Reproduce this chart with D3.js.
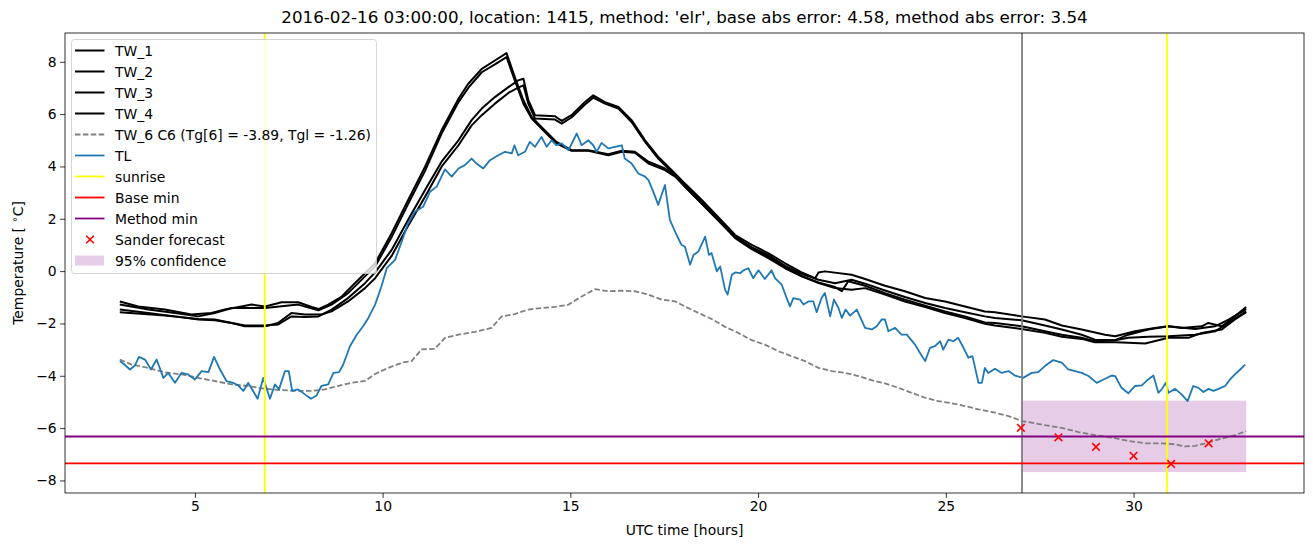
<!DOCTYPE html>
<html lang="en">
<head>
<meta charset="utf-8">
<title>Temperature forecast 1415</title>
<script src="https://d3js.org/d3.v7.min.js"></script>
<style>
  body { margin: 0; background: #fff; }
  svg { font-family: "DejaVu Sans", sans-serif; }
  .tick text { font-size: 13.9px; fill: #000; }
  .tick line { stroke: #000; stroke-width: 0.8px; }
</style>
</head>
<body>
<svg id="chart" width="1313" height="547"></svg>
<script>
// road surface sensors (hour, temp)
const tw1 = [[3.0,-1.16],[3.49,-1.35],[4.20,-1.47],[4.91,-1.66],[5.44,-1.60],[5.80,-1.47],[6.24,-1.35],[6.51,-1.28],[6.87,-1.35],[7.31,-1.19],[7.75,-1.19],[8.11,-1.37],[8.29,-1.45],[8.55,-1.28],[8.91,-0.97],[9.26,-0.46],[9.53,-0.08],[9.80,0.30],
  [10.24,1.45],[10.68,2.72],[11.13,3.99],[11.57,5.38],[12.02,6.59],[12.28,7.16],[12.64,7.73],[12.99,8.05],[13.30,8.33],[13.52,7.42],[13.75,6.53],[13.97,5.89],[14.23,5.51],[14.63,4.94],[15.03,4.62],[15.48,4.62],[16.01,4.47],[16.37,4.60],[16.72,4.56],[17.08,4.18],[17.52,3.92],[17.79,3.67],[18.05,3.29],
  [18.50,2.65],[18.94,1.98],[19.39,1.32],[19.83,0.91],[20.27,0.62],[20.72,0.20],[21.16,-0.10],[21.61,-0.33],[22.05,-0.46],[22.49,-0.33],[22.85,-0.48],[23.38,-0.74],[23.91,-0.99],[24.45,-1.22],[24.98,-1.41],[25.51,-1.57],[26.04,-1.73],[26.31,-1.79],
  [27.02,-1.88],[27.64,-2.08],[28.09,-2.23],[28.62,-2.43],[28.97,-2.62],[29.51,-2.64],[29.86,-2.43],[30.39,-2.23],[30.93,-2.11],[31.64,-2.21],[32.17,-2.11],[32.53,-1.85],[33.0,-1.45]];
const tw2 = [[3.0,-1.28],[3.76,-1.47],[4.47,-1.60],[5.09,-1.73],[5.53,-1.60],[5.98,-1.41],[6.87,-1.41],[7.75,-1.28],[8.29,-1.50],[8.64,-1.28],[9.08,-0.84],[9.53,-0.20],[9.80,0.18],
  [10.24,1.30],[10.68,2.57],[11.13,3.83],[11.57,5.26],[12.02,6.46],[12.28,7.0],[12.64,7.6],[12.99,7.9],[13.30,8.18],[13.52,7.29],[13.75,6.4],[13.97,5.83],[14.23,5.45],[14.63,4.88],[15.03,4.6],[15.48,4.6],[16.01,4.43],[16.37,4.56],[16.72,4.52],[17.08,4.11],[17.52,3.86],[17.79,3.61],[18.05,3.23],
  [18.50,2.57],[18.94,1.93],[19.39,1.26],[19.83,0.84],[20.27,0.50],[20.72,0.11],[21.16,-0.20],[21.61,-0.46],[22.05,-0.65],[22.49,-0.71],[22.85,-0.65],[23.38,-0.90],[23.91,-1.16],[24.45,-1.37],[24.98,-1.60],[25.51,-1.79],[26.04,-2.01],[26.31,-2.08],
  [27.02,-2.21],[27.64,-2.36],[28.09,-2.51],[28.62,-2.59],[28.97,-2.72],[29.51,-2.72],[29.86,-2.74],[30.31,-2.77],[30.93,-2.55],[31.46,-2.55],[31.82,-2.36],[32.35,-2.23],[32.70,-1.85],[33.0,-1.57]];
const tw3 = [[3.0,-1.47],[3.76,-1.60],[4.47,-1.73],[5.09,-1.85],[5.53,-1.88],[5.98,-1.98],[6.33,-2.08],[6.87,-2.08],[7.22,-2.04],[7.57,-1.73],[7.93,-1.75],[8.29,-1.73],[8.64,-1.47],[9.08,-1.03],[9.53,-0.46],[9.80,-0.05],
  [10.24,0.81],[10.68,1.96],[11.13,3.10],[11.57,4.18],[12.02,5.00],[12.37,5.77],[12.64,6.21],[12.99,6.65],[13.35,7.03],[13.61,7.29],[13.75,7.35],[13.88,6.53],[14.06,5.96],[14.59,5.92],[14.77,5.74],[15.03,5.96],[15.39,6.46],[15.61,6.72],[15.92,6.46],[16.28,6.27],[16.63,5.77],[16.99,5.00],[17.34,4.37],[17.70,3.86],[18.05,3.35],
  [18.50,2.72],[18.94,2.06],[19.39,1.38],[19.83,1.00],[20.27,0.69],[20.72,0.30],[21.16,-0.05],[21.52,-0.27],[21.61,-0.05],[21.78,-0.01],[22.49,-0.14],[22.85,-0.30],[23.38,-0.56],[23.91,-0.77],[24.45,-1.03],[24.98,-1.16],[25.51,-1.35],[26.04,-1.54],[26.31,-1.57],
  [27.02,-1.73],[27.64,-1.85],[28.09,-2.08],[28.62,-2.23],[29.24,-2.43],[29.51,-2.49],[30.04,-2.30],[30.57,-2.17],[30.93,-2.11],[31.28,-2.17],[31.82,-2.11],[31.99,-1.98],[32.35,-2.11],[32.70,-1.73],[33.0,-1.37]];
const tw4 = [[3.0,-1.57],[4.20,-1.70],[5.09,-1.83],[5.53,-1.85],[5.98,-1.98],[6.33,-2.11],[6.87,-2.11],[7.22,-1.98],[7.57,-1.60],[7.93,-1.66],[8.37,-1.66],[8.64,-1.54],[9.08,-1.16],[9.53,-0.65],[9.80,-0.27],
  [10.24,0.58],[10.68,1.73],[11.13,2.84],[11.57,3.99],[12.02,4.81],[12.37,5.57],[12.64,5.96],[12.99,6.40],[13.35,6.81],[13.61,7.01],[13.75,7.10],[13.88,6.40],[14.06,5.83],[14.59,5.79],[14.77,5.64],[15.03,5.87],[15.39,6.37],[15.61,6.63],[15.92,6.40],[16.28,6.21],[16.63,5.70],[16.99,4.94],[17.34,4.30],[17.70,3.80],[18.05,3.23],
  [18.50,2.59],[18.94,1.96],[19.39,1.30],[19.83,0.88],[20.27,0.56],[20.72,0.15],[21.16,-0.18],[21.61,-0.43],[22.05,-0.61],[22.23,-0.77],[22.40,-0.39],[22.85,-0.56],[23.38,-0.84],[23.91,-1.09],[24.45,-1.32],[24.98,-1.54],[25.51,-1.73],[26.04,-1.96],[26.31,-1.98],
  [27.02,-2.11],[27.64,-2.30],[28.09,-2.43],[28.62,-2.55],[28.97,-2.68],[29.51,-2.64],[29.86,-2.55],[30.39,-2.51],[30.93,-2.49],[31.64,-2.43],[32.17,-2.30],[32.53,-1.98],[33.0,-1.54]];

// modelled surface TW_6 C6
const tw6 = [[3.0,-3.38],[3.31,-3.57],[3.76,-3.70],[4.20,-3.87],[4.65,-3.95],[5.09,-4.08],[5.53,-4.20],[5.98,-4.33],[6.42,-4.39],[6.87,-4.50],[7.31,-4.55],[7.75,-4.58],[8.11,-4.58],[8.46,-4.52],[8.82,-4.39],[9.17,-4.27],[9.53,-4.20],[9.80,-3.93],
  [10.15,-3.70],[10.51,-3.50],[10.77,-3.44],[11.04,-2.99],[11.39,-2.97],[11.66,-2.55],[12.02,-2.43],[12.46,-2.32],[12.90,-2.17],[13.17,-1.73],[13.52,-1.64],[13.88,-1.47],[14.23,-1.41],[14.59,-1.37],[14.95,-1.28],[15.30,-0.97],[15.66,-0.69],[16.01,-0.77],[16.37,-0.75],[16.72,-0.77],[17.08,-0.90],[17.43,-1.09],[17.79,-1.16],[18.05,-1.35],
  [18.41,-1.60],[18.76,-1.83],[19.12,-2.13],[19.47,-2.36],[19.83,-2.64],[20.18,-2.81],[20.54,-3.06],[20.89,-3.25],[21.25,-3.44],[21.61,-3.70],[21.96,-3.82],[22.32,-3.89],[22.67,-4.01],[23.03,-4.17],[23.38,-4.29],[23.74,-4.46],[24.09,-4.65],[24.45,-4.84],[24.80,-4.97],[25.16,-5.05],[25.51,-5.16],[25.87,-5.28],[26.31,-5.41],
  [26.67,-5.54],[27.02,-5.73],[27.20,-5.77],[27.64,-5.89],[28.09,-5.99],[28.53,-6.15],[28.97,-6.27],[29.42,-6.36],[29.86,-6.49],[30.31,-6.58],[30.75,-6.58],[31.11,-6.62],[31.37,-6.70],[31.64,-6.68],[31.99,-6.55],[32.35,-6.40],[32.70,-6.27],[33.0,-6.11]];

// air temperature TL
const tl = [[3.0,-3.44],[3.09,-3.53],[3.27,-3.76],[3.40,-3.61],[3.51,-3.28],[3.67,-3.38],[3.83,-3.76],[3.98,-3.38],[4.16,-4.08],[4.29,-3.89],[4.47,-4.27],[4.64,-3.89],[4.82,-3.95],[5.00,-4.14],[5.18,-3.82],[5.36,-3.86],[5.51,-3.28],[5.67,-3.76],[5.84,-4.20],[6.02,-4.27],[6.15,-4.37],[6.29,-4.58],[6.42,-4.27],[6.55,-4.58],[6.67,-4.88],[6.82,-4.08],[7.00,-4.88],[7.13,-4.33],[7.24,-4.52],[7.40,-3.82],[7.50,-3.82],[7.59,-4.58],[7.75,-4.52],[7.93,-4.71],[8.09,-4.88],[8.24,-4.75],[8.37,-4.39],[8.55,-4.33],[8.69,-3.89],[8.84,-3.86],[8.95,-3.57],[9.13,-2.87],[9.31,-2.43],[9.48,-2.11],[9.62,-1.79],[9.80,-1.28],
  [9.97,-0.58],[10.11,0.11],[10.33,0.43],[10.51,1.13],[10.68,1.83],[10.86,2.27],[11.08,2.46],[11.26,3.03],[11.44,3.23],[11.66,3.89],[11.84,3.61],[12.02,3.92],[12.19,4.05],[12.37,4.30],[12.50,4.11],[12.68,3.92],[12.86,4.24],[13.08,4.43],[13.26,4.56],[13.44,4.50],[13.51,4.81],[13.61,4.43],[13.79,4.56],[13.92,4.94],[14.06,4.75],[14.23,5.13],[14.37,4.75],[14.50,5.00],[14.63,4.81],[14.77,4.88],[14.95,4.62],[15.17,5.26],[15.30,4.81],[15.48,5.00],[15.61,4.81],[15.70,4.56],[15.83,4.90],[16.01,4.69],[16.19,4.75],[16.37,4.81],[16.45,4.30],[16.63,4.11],[16.81,3.73],[16.99,3.61],[17.08,3.48],[17.21,3.03],[17.34,2.53],[17.52,3.29],[17.65,1.96],[17.83,1.38],[17.96,1.00],
  [18.05,0.94],[18.19,0.24],[18.28,0.62],[18.41,0.75],[18.59,1.32],[18.69,0.62],[18.76,0.69],[18.90,-0.01],[18.99,0.18],[19.12,-0.71],[19.19,-0.90],[19.30,-0.14],[19.39,-0.05],[19.52,-0.08],[19.61,0.03],[19.74,0.11],[19.87,-0.27],[20.01,0.03],[20.18,-0.30],[20.36,0.03],[20.45,-0.27],[20.63,-0.52],[20.76,-1.03],[20.85,-1.35],[20.94,-1.03],[21.12,-1.09],[21.21,-1.28],[21.34,-1.16],[21.47,-1.16],[21.56,-1.57],[21.69,-1.03],[21.78,-0.84],[21.92,-1.73],[22.02,-1.09],[22.14,-1.41],[22.23,-1.79],[22.33,-1.47],[22.45,-1.70],[22.63,-1.47],[22.71,-1.73],[22.85,-2.17],[23.03,-2.23],[23.16,-2.11],[23.29,-1.85],[23.38,-1.85],[23.47,-2.30],[23.65,-2.17],[23.82,-2.43],[23.96,-2.43],[24.18,-2.81],[24.31,-3.12],[24.45,-3.44],[24.58,-2.93],[24.71,-2.87],[24.85,-2.68],[24.93,-3.00],[25.07,-2.62],[25.20,-2.68],[25.33,-2.55],[25.47,-2.93],[25.60,-3.31],[25.71,-3.25],[25.87,-4.27],[25.96,-4.27],[26.04,-3.70],[26.13,-3.89],[26.31,-3.73],
  [26.49,-3.89],[26.67,-3.82],[26.84,-3.99],[27.06,-4.08],[27.29,-3.89],[27.46,-3.86],[27.64,-3.63],[27.86,-3.40],[28.09,-3.50],[28.26,-3.76],[28.62,-3.89],[28.80,-4.01],[29.02,-4.27],[29.20,-4.14],[29.42,-3.99],[29.51,-4.01],[29.68,-4.46],[29.86,-4.67],[30.04,-4.39],[30.22,-4.37],[30.39,-4.14],[30.53,-3.99],[30.66,-4.65],[30.75,-4.52],[30.86,-4.27],[30.93,-4.65],[31.11,-4.50],[31.28,-4.71],[31.44,-4.97],[31.59,-4.39],[31.73,-4.46],[31.86,-4.62],[32.00,-4.50],[32.13,-4.58],[32.26,-4.50],[32.44,-4.39],[32.57,-4.14],[32.70,-3.95],[32.84,-3.76],[32.97,-3.57]];

const sunriseHours = [6.86, 30.89];
const forecastStart = 27.03;
const baseMin = -7.35;
const methodMin = -6.32;
const sanderHours = [27, 28, 29, 30, 31, 32];
const sanderTemps = [-5.99, -6.35, -6.72, -7.06, -7.37, -6.58];
const confHours = [27, 33];
const confBand = [-7.68, -4.95];
const xTicks = [5, 10, 15, 20, 25, 30];
const yTicks = [-8, -6, -4, -2, 0, 2, 4, 6, 8];
const legendLabels = ['TW_1', 'TW_2', 'TW_3', 'TW_4', 'TW_6 C6 (Tg[6] = -3.89, Tgl = -1.26)', 'TL', 'sunrise', 'Base min', 'Method min', 'Sander forecast', '95% confidence'];
const titleText = "2016-02-16 03:00:00, location: 1415, method: 'elr', base abs error: 4.58, method abs error: 3.54";

const W = 1313, H = 547;
const m = {left: 65, right: 9, top: 33, bottom: 54};
const LW = 1.8;
const svg = d3.select('#chart');
svg.append('rect').attr('width', W).attr('height', H).attr('fill', '#fff');

const x = d3.scaleLinear().domain([1.54, 34.54]).range([m.left, W - m.right]);
const y = d3.scaleLinear().domain([-8.48, 9.1]).range([H - m.bottom, m.top]);

const plot = svg.append('g');
const line = d3.line().x(d => x(d[0])).y(d => y(d[1]));

// confidence band (behind lines)
plot.append('rect')
  .attr('x', x(confHours[0])).attr('width', x(confHours[1]) - x(confHours[0]))
  .attr('y', y(confBand[1])).attr('height', y(confBand[0]) - y(confBand[1]))
  .attr('fill', 'purple').attr('fill-opacity', 0.2);

[tw1, tw2, tw3, tw4].forEach(s => {
  plot.append('path').datum(s).attr('d', line)
    .attr('fill', 'none').attr('stroke', '#000').attr('stroke-width', 2)
    .attr('stroke-linejoin', 'round');
});
plot.append('path').datum(tw6).attr('d', line)
  .attr('fill', 'none').attr('stroke', 'gray').attr('stroke-width', LW)
  .attr('stroke-dasharray', '5.5,2.4');
plot.append('path').datum(tl).attr('d', line)
  .attr('fill', 'none').attr('stroke', '#1f77b4').attr('stroke-width', LW)
  .attr('stroke-linejoin', 'round');

plot.append('line')
  .attr('x1', x(forecastStart)).attr('x2', x(forecastStart))
  .attr('y1', y.range()[0]).attr('y2', y.range()[1])
  .attr('stroke', 'gray').attr('stroke-width', LW);
sunriseHours.forEach(h => {
  plot.append('line')
    .attr('x1', x(h)).attr('x2', x(h))
    .attr('y1', y.range()[0]).attr('y2', y.range()[1])
    .attr('stroke', 'yellow').attr('stroke-width', LW);
});
[[baseMin, 'red'], [methodMin, 'purple']].forEach(([v, c]) => {
  plot.append('line')
    .attr('x1', x.range()[0]).attr('x2', x.range()[1])
    .attr('y1', y(v)).attr('y2', y(v))
    .attr('stroke', c).attr('stroke-width', LW);
});

const xMark = (g, cx, cy, r) => {
  g.append('path')
    .attr('d', `M${cx - r},${cy - r}L${cx + r},${cy + r}M${cx - r},${cy + r}L${cx + r},${cy - r}`)
    .attr('stroke', 'red').attr('stroke-width', 1.6).attr('fill', 'none');
};
sanderHours.forEach((h, i) => xMark(plot, x(h), y(sanderTemps[i]), 3.8));

// axes
const xAxis = svg.append('g').attr('transform', `translate(0,${H - m.bottom})`)
  .call(d3.axisBottom(x).tickValues(xTicks).tickSize(4.9).tickPadding(3.5));
const yAxis = svg.append('g').attr('transform', `translate(${m.left},0)`)
  .call(d3.axisLeft(y).tickValues(yTicks).tickSize(4.9).tickPadding(3.5));
xAxis.select('.domain').remove();
yAxis.select('.domain').remove();
svg.selectAll('.tick text').attr('font-family', '"DejaVu Sans", sans-serif');

svg.append('rect')
  .attr('x', m.left).attr('y', m.top)
  .attr('width', W - m.left - m.right).attr('height', H - m.top - m.bottom)
  .attr('fill', 'none').attr('stroke', '#000').attr('stroke-width', 0.8);

svg.append('text').attr('x', (m.left + W - m.right) / 2).attr('y', 23)
  .attr('text-anchor', 'middle').attr('font-size', 16.7).text(titleText);
svg.append('text').attr('x', (m.left + W - m.right) / 2).attr('y', 535)
  .attr('text-anchor', 'middle').attr('font-size', 13.9).text('UTC time [hours]');
const yl = svg.append('text')
  .attr('transform', `translate(23,${(m.top + H - m.bottom) / 2}) rotate(-90)`)
  .attr('text-anchor', 'middle').attr('font-size', 13.9);
yl.append('tspan').text('Temperature [ ');
yl.append('tspan').attr('font-size', 10).attr('dy', -5).text('\u2218');
yl.append('tspan').attr('dy', 5).text('C]');

// legend
const lg = svg.append('g').attr('transform', 'translate(71.5,39.5)');
lg.append('rect').attr('width', 305).attr('height', 234).attr('rx', 3)
  .attr('fill', '#fff').attr('fill-opacity', 0.8)
  .attr('stroke', '#ccc').attr('stroke-opacity', 0.8);
const handles = [
  {t: 'line', c: '#000', w: 2}, {t: 'line', c: '#000', w: 2}, {t: 'line', c: '#000', w: 2}, {t: 'line', c: '#000', w: 2},
  {t: 'line', c: 'gray', w: LW, dash: '5.5,2.4'}, {t: 'line', c: '#1f77b4', w: LW},
  {t: 'line', c: 'yellow', w: LW}, {t: 'line', c: 'red', w: LW}, {t: 'line', c: 'purple', w: LW},
  {t: 'mark'}, {t: 'patch'}
];
legendLabels.forEach((lab, i) => {
  const cy = 11 + i * 21;
  const h = handles[i];
  if (h.t === 'line') {
    lg.append('line').attr('x1', 3.5).attr('x2', 33).attr('y1', cy).attr('y2', cy)
      .attr('stroke', h.c).attr('stroke-width', h.w).attr('stroke-dasharray', h.dash || null);
  } else if (h.t === 'mark') {
    xMark(lg, 18.5, cy, 3.8);
  } else {
    lg.append('rect').attr('x', 3.5).attr('y', cy - 5).attr('width', 29).attr('height', 10)
      .attr('fill', 'purple').attr('fill-opacity', 0.2);
  }
  lg.append('text').attr('x', 43.5).attr('y', cy + 5).attr('font-size', 13.9).text(lab);
});
</script>
</body>
</html>
